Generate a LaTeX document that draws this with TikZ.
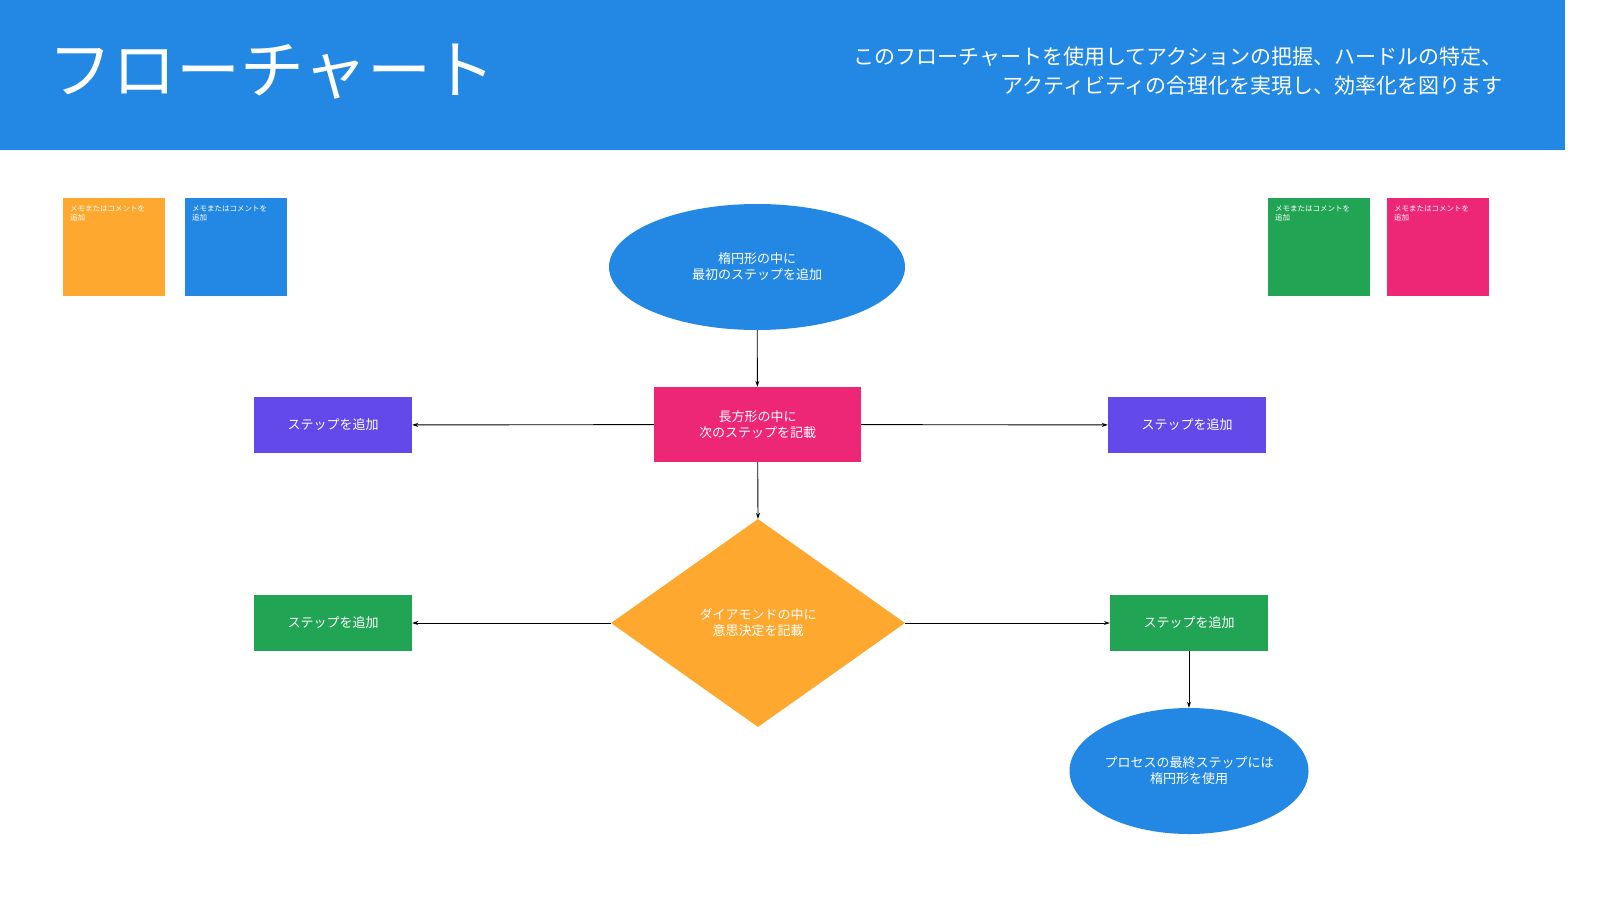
\documentclass[tikz,border=0pt]{standalone}
\usepackage{fontspec}
\setmainfont{Noto Sans CJK JP}
\usetikzlibrary{shapes.geometric,arrows.meta}
\definecolor{cblue}{HTML}{2388E4}
\definecolor{cpink}{HTML}{EE2676}
\definecolor{cpurple}{HTML}{6349EA}
\definecolor{corange}{HTML}{FEA82F}
\definecolor{cgreen}{HTML}{22A455}
\begin{document}
\begin{tikzpicture}[x=1pt,y=-1pt,
  lbl/.style={text=white,font=\fontsize{13}{16}\selectfont,align=center,inner sep=0},
  memo/.style={minimum width=102pt,minimum height=98pt,inner sep=0},
  memotext/.style={text=white,font=\fontsize{7.5}{9}\selectfont,align=left,anchor=north west,inner sep=0},
  conn/.style={-{Stealth[length=6pt,width=4pt]},line width=0.9pt}]
\useasboundingbox (0,0) rectangle (1600,900);
\fill[white] (0,0) rectangle (1600,900);
\fill[cblue] (0,0) rectangle (1565,150);
\node[text=white,anchor=west,font=\fontsize{64}{70}\selectfont,inner sep=0] (title) at (48,72) {フローチャート};
\node[text=white,anchor=east,align=right,font=\fontsize{21}{29}\selectfont,inner sep=0] (sub) at (1503,71) {このフローチャートを使用してアクションの把握、ハードルの特定、\\アクティビティの合理化を実現し、効率化を図ります};
% memos
\foreach \n/\x/\c in {m1/63/corange,m2/185/cblue,m3/1268/cgreen,m4/1387/cpink}{
  \node[memo,fill=\c,anchor=north west] (\n) at (\x,198) {};
  \node[memotext] at (\x+7,205) {メモまたはコメントを\\追加};
}
\node[ellipse,fill=cblue,minimum width=296pt,minimum height=126pt,lbl] (e1) at (757,267) {楕円形の中に\\最初のステップを追加};
\node[fill=cpink,minimum width=207pt,minimum height=75pt,lbl] (r1) at (757.5,424.5) {長方形の中に\\次のステップを記載};
\node[fill=cpurple,minimum width=158pt,minimum height=56pt,lbl] (pl) at (333,425) {ステップを追加};
\node[fill=cpurple,minimum width=158pt,minimum height=56pt,lbl] (pr) at (1187,425) {ステップを追加};
\node[diamond,fill=corange,minimum width=294pt,minimum height=208pt,inner sep=0,aspect=1.41,lbl] (d1) at (758,623) {ダイアモンドの中に\\意思決定を記載};
\node[fill=cgreen,minimum width=158pt,minimum height=56pt,lbl] (gl) at (333,623) {ステップを追加};
\node[fill=cgreen,minimum width=158pt,minimum height=56pt,lbl] (gr) at (1189,623) {ステップを追加};
\node[ellipse,fill=cblue,minimum width=224pt,minimum height=126pt,lbl] (e2) at (1189,771) {プロセスの最終ステップには\\楕円形を使用};
\draw[conn] (e1) -- (r1);
\draw[conn] (r1) -- (pl);
\draw[conn] (r1) -- (pr);
\draw[conn] (r1) -- (d1.north);
\draw[conn] (d1.west) -- (gl);
\draw[conn] (d1.east) -- (gr);
\draw[conn] (gr) -- (e2);
\end{tikzpicture}
\end{document}
